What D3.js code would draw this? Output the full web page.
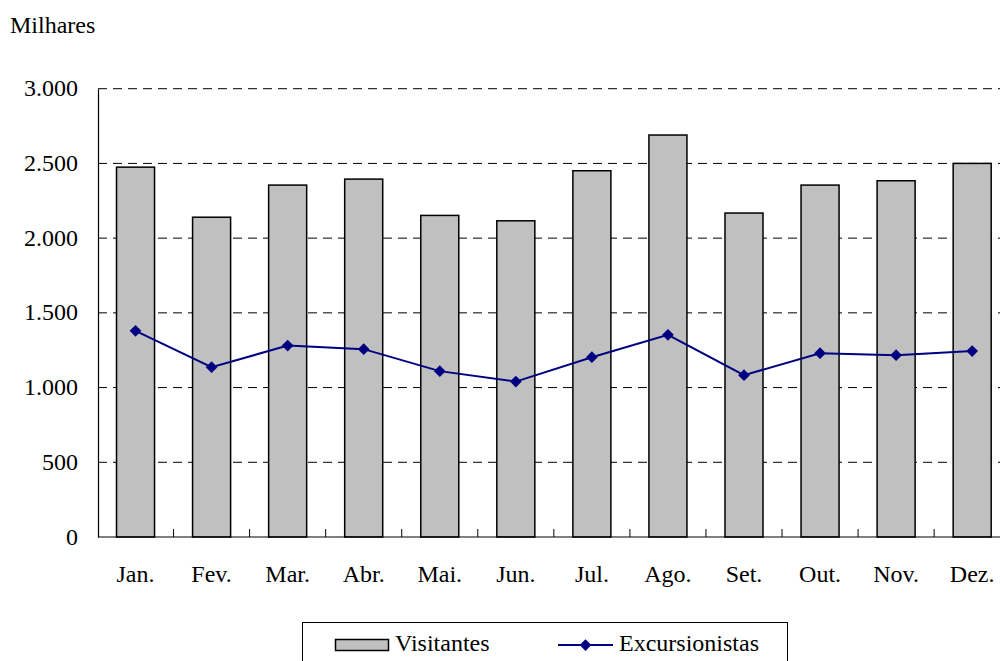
<!DOCTYPE html>
<html><head><meta charset="utf-8">
<script src="https://cdn.jsdelivr.net/npm/d3@7/dist/d3.min.js"></script>
<style>body{margin:0;background:#fff;overflow:hidden}svg{display:block}text{font-family:"Liberation Serif","Times New Roman",Times,serif;fill:#000}</style>
</head><body>
<script>
const months = ["Jan.","Fev.","Mar.","Abr.","Mai.","Jun.","Jul.","Ago.","Set.","Out.","Nov.","Dez."];
const visitantes = [2475,2140,2355,2395,2152,2116,2451,2690,2168,2355,2384,2500];
const excursionistas = [1380,1136,1281,1257,1110,1040,1203,1353,1083,1230,1217,1244];
const yTicks = [0,500,1000,1500,2000,2500,3000];
const tickLabels = ["0","500","1.000","1.500","2.000","2.500","3.000"];
const seriesNames = ["Visitantes","Excursionistas"];

const W=1000,H=661;
const FONT='"Liberation Serif","Times New Roman",Times,serif';
const svg=d3.select("body").append("svg").attr("width",W).attr("height",H);
const x=d3.scaleBand().domain(months).range([97.5,1010.2]).paddingInner(0).paddingOuter(0);
const y=d3.scaleLinear().domain([0,3000]).range([537,88.7]);
const bw=x.bandwidth()*0.5;

// gridlines
svg.append("g").selectAll("line").data(yTicks.filter(d=>d>0)).join("line")
  .attr("x1",98).attr("x2",1010).attr("y1",d=>y(d)).attr("y2",d=>y(d))
  .attr("stroke","#000").attr("stroke-width",1).attr("stroke-dasharray","9,6");

// bars
svg.append("g").selectAll("rect").data(visitantes).join("rect")
  .attr("x",(d,i)=>x(months[i])+x.bandwidth()/2-bw/2)
  .attr("width",bw)
  .attr("y",d=>y(d)).attr("height",d=>y(0)-y(d))
  .attr("fill","#C0C0C0").attr("stroke","#000").attr("stroke-width",1.5);

// y axis
const yAxis=d3.axisLeft(y).tickValues(yTicks).tickFormat((d,i)=>tickLabels[i]).tickSize(0).tickPadding(20);
const gy=svg.append("g").attr("transform","translate(98,0)").call(yAxis);
gy.attr("font-family",FONT);
gy.select(".domain").attr("stroke","#000").attr("stroke-width",1.2);
gy.selectAll("text").style("font-size","24px").style("font-family",FONT).attr("dy","7px");

// x axis
const xAxis=d3.axisBottom(x).tickSize(0).tickPadding(28);
const gx=svg.append("g").attr("transform","translate(0,537)").call(xAxis);
gx.attr("font-family",FONT);
gx.select(".domain").remove();
gx.selectAll("text").style("font-size","24px").style("font-family",FONT).attr("dy","0.71em");
svg.append("line").attr("x1",98).attr("x2",1010).attr("y1",537).attr("y2",537).attr("stroke","#000").attr("stroke-width",1.2);
// category boundary ticks (inside)
svg.append("g").selectAll("line").data(months.slice(1)).join("line")
  .attr("x1",d=>x(d)).attr("x2",d=>x(d)).attr("y1",529).attr("y2",537)
  .attr("stroke","#000").attr("stroke-width",1);

// line
const line=d3.line().x((d,i)=>x(months[i])+x.bandwidth()/2).y(d=>y(d));
svg.append("path").datum(excursionistas).attr("d",line).attr("fill","none").attr("stroke","#000080").attr("stroke-width",2);
const diamond=d3.symbol().type(d3.symbolDiamond2).size(88);
svg.append("g").selectAll("path").data(excursionistas).join("path")
  .attr("d",diamond)
  .attr("transform",(d,i)=>`translate(${x(months[i])+x.bandwidth()/2},${y(d)})`)
  .attr("fill","#000080");

// title
svg.append("text").attr("x",10).attr("y",33).style("font-size","24px").style("font-family",FONT).text("Milhares");

// legend
const lg=svg.append("g");
lg.append("rect").attr("x",302.5).attr("y",622.5).attr("width",485).attr("height",60).attr("fill","#fff").attr("stroke","#000").attr("stroke-width",1);
lg.append("rect").attr("x",335.5).attr("y",639.5).attr("width",53).attr("height",11).attr("fill","#C0C0C0").attr("stroke","#000").attr("stroke-width",1.5);
lg.append("text").attr("x",395).attr("y",651).style("font-size","24px").style("font-family",FONT).text(seriesNames[0]);
lg.append("line").attr("x1",558).attr("x2",613).attr("y1",645).attr("y2",645).attr("stroke","#000080").attr("stroke-width",2);
lg.append("path").attr("d",diamond).attr("transform","translate(585.5,645)").attr("fill","#000080");
lg.append("text").attr("x",619).attr("y",651).style("font-size","24px").style("font-family",FONT).text(seriesNames[1]);
</script>
</body></html>
